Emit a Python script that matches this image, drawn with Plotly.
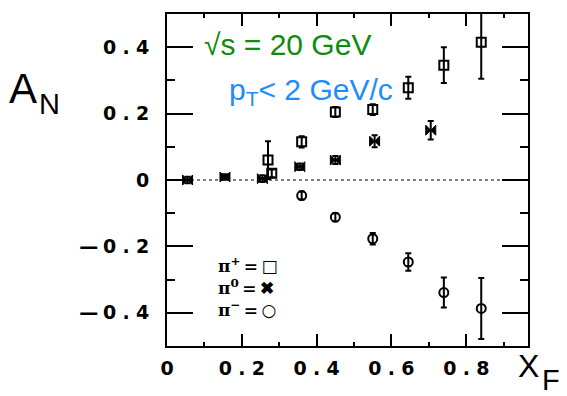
import plotly.graph_objects as go

# ---- data ----
pip_x = [0.27, 0.28, 0.36, 0.45, 0.55, 0.645, 0.74, 0.84]
pip_y = [0.06, 0.02, 0.115, 0.205, 0.212, 0.278, 0.346, 0.415]
pip_e = [0.057, 0.012, 0.017, 0.015, 0.016, 0.033, 0.054, 0.11]

pi0_x = [0.055, 0.155, 0.255, 0.355, 0.45, 0.555, 0.705]
pi0_y = [0.0, 0.009, 0.004, 0.04, 0.06, 0.117, 0.15]
pi0_e = [0.01, 0.008, 0.01, 0.01, 0.012, 0.018, 0.028]

pim_x = [0.36, 0.45, 0.55, 0.645, 0.74, 0.84]
pim_y = [-0.047, -0.112, -0.177, -0.247, -0.339, -0.387]
pim_e = [0.012, 0.012, 0.017, 0.026, 0.045, 0.092]

y_ticks = [-0.4, -0.2, 0, 0.2, 0.4]
y_ticktext = ["\u2014\u20050\u2004.\u20044", "\u2014\u20050\u2004.\u20042", "0", "0\u2004.\u20042", "0\u2004.\u20044"]
x_ticks = [0, 0.2, 0.4, 0.6, 0.8]
x_ticktext = ["0", "0\u2004.\u20042", "0\u2004.\u20044", "0\u2004.\u20046", "0\u2004.\u20048"]

legend_lines = ["\u03c0<sup>+</sup>\u2009=\u2009\u25a1", "\u03c0<sup>0</sup>\u2009=\u2009\u2716", "\u03c0<sup>\u2212</sup>\u2009=\u2009\u25cb"]

# page has an 8px body margin; figure sized so the plot lands where the reference has it
OFF = 8
W, H = 567 - OFF, 396 - OFF
L, R, T, B = 167 - OFF, 39, 12 - OFF, 50
pw, ph = W - L - R, H - T - B


def px(x):
    return (x - OFF - L) / pw


def py(y):
    return (H - B - (y - OFF)) / ph


fig = go.Figure()

err = dict(type="data", thickness=2, width=3, color="black")

fig.add_trace(go.Scatter(x=pip_x, y=pip_y, mode="markers",
                         error_y=dict(array=pip_e, **err),
                         marker=dict(symbol="square-open", size=9, color="black", line=dict(width=2, color="black")),
                         cliponaxis=False, name="pi+"))
fig.add_trace(go.Scatter(x=pi0_x, y=pi0_y, mode="markers",
                         error_y=dict(array=pi0_e, **err),
                         marker=dict(symbol="bowtie", size=10, color="black", line=dict(width=1, color="black")),
                         cliponaxis=False, name="pi0"))
fig.add_trace(go.Scatter(x=pim_x, y=pim_y, mode="markers",
                         error_y=dict(array=pim_e, **err),
                         marker=dict(symbol="circle-open", size=9, color="black", line=dict(width=2, color="black")),
                         cliponaxis=False, name="pi-"))

fig.add_shape(type="line", xref="paper", yref="y", x0=0, x1=1, y0=0, y1=0,
              line=dict(color="black", width=1, dash="dot"))

tickfont = dict(family="DejaVu Sans", size=19, color="black", weight="bold")

fig.update_xaxes(range=[0, 0.965], showgrid=False, zeroline=False,
                 showline=True, linecolor="black", linewidth=2, mirror="allticks",
                 ticks="inside", ticklen=12, tickwidth=1.5, tickcolor="black",
                 tickvals=x_ticks, ticktext=x_ticktext, tickfont=tickfont,
                 ticklabelstandoff=4,
                 minor=dict(ticks="inside", ticklen=4, dtick=0.1, tickcolor="black", tickwidth=1.5))
fig.update_yaxes(range=[-0.5, 0.5], showgrid=False, zeroline=False,
                 showline=True, linecolor="black", linewidth=2, mirror="allticks",
                 ticks="inside", ticklen=26, tickwidth=1.5, tickcolor="black",
                 tickvals=y_ticks, ticktext=y_ticktext, tickfont=tickfont,
                 ticklabelstandoff=12,
                 minor=dict(ticks="inside", ticklen=8, dtick=0.1, tickcolor="black", tickwidth=1.5))

ann = []
ann.append(dict(text="\u221as = 20 GeV", x=px(202), y=py(43), xanchor="left", yanchor="middle",
                font=dict(family="Liberation Sans", size=30, color="#0d8c0d")))
ann.append(dict(text="p<sub>T</sub>< 2 GeV/c", x=px(227), y=py(90), xanchor="left", yanchor="middle",
                font=dict(family="Liberation Sans", size=30, color="#1e8cff")))
ann.append(dict(text="A", x=px(7), y=py(87), xanchor="left", yanchor="middle",
                font=dict(family="Liberation Sans", size=42, color="black")))
ann.append(dict(text="N", x=px(37), y=py(103), xanchor="left", yanchor="middle",
                font=dict(family="Liberation Sans", size=29, color="black")))
ann.append(dict(text="X", x=px(516), y=py(366), xanchor="left", yanchor="middle",
                font=dict(family="Liberation Sans", size=32, color="black")))
ann.append(dict(text="F", x=px(540), y=py(380), xanchor="left", yanchor="middle",
                font=dict(family="Liberation Sans", size=29, color="black")))
ann.append(dict(text="<br>".join(legend_lines), x=px(216), y=py(287), xanchor="left", yanchor="middle",
                align="left",
                font=dict(family="DejaVu Serif", size=17, color="black", weight="bold")))

for a in ann:
    a.update(xref="paper", yref="paper", showarrow=False)

fig.update_layout(width=W, height=H, margin=dict(l=L, r=R, t=T, b=B),
                  paper_bgcolor="white", plot_bgcolor="white", showlegend=False,
                  annotations=ann)

fig.write_html("out.html")
